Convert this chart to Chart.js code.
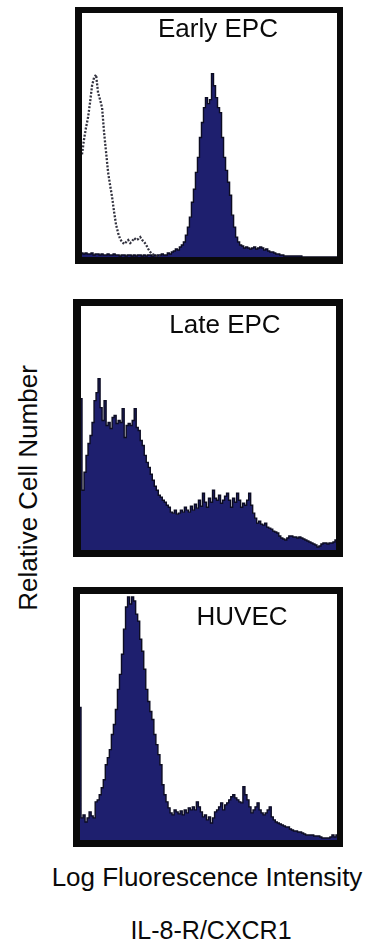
<!DOCTYPE html>
<html>
<head>
<meta charset="utf-8">
<script src="https://cdn.jsdelivr.net/npm/chart.js@4.4.1/dist/chart.umd.min.js"></script>
<style>
  html, body { margin: 0; padding: 0; background: #ffffff; }
  body { width: 368px; height: 952px; position: relative; overflow: hidden; font-family: "Liberation Sans", Arial, sans-serif; color: #0a0a0a; }
  .panel { position: absolute; }
  .txt { position: absolute; white-space: nowrap; text-align: center; line-height: 1; }
</style>
</head>
<body>

<div class="panel" style="left:75px;top:7px;width:268px;height:257px;"><canvas id="c1" width="268" height="257"></canvas></div>
<div class="panel" style="left:73px;top:299px;width:270px;height:258px;"><canvas id="c2" width="270" height="258"></canvas></div>
<div class="panel" style="left:73px;top:587px;width:270px;height:260px;"><canvas id="c3" width="270" height="260"></canvas></div>

<div class="txt" id="t1" style="left:118px;top:15px;width:200px;font-size:26px;"></div>
<div class="txt" id="t2" style="left:125px;top:311px;width:200px;font-size:26px;"></div>
<div class="txt" id="t3" style="left:142px;top:603px;width:200px;font-size:26px;"></div>
<div class="txt" id="xlab" style="left:7px;top:864px;width:400px;font-size:26px;"></div>
<div class="txt" id="mlab" style="left:61px;top:918px;width:300px;font-size:25px;"></div>
<div class="txt" id="ylab" style="left:-122px;top:475px;width:300px;height:26px;font-size:26px;transform:rotate(-90deg);"></div>

<script>
// ---------- labels ----------
const panelTitles = ["Early EPC", "Late EPC", "HUVEC"];
const xAxisTitle = "Log Fluorescence Intensity";
const markerTitle = "IL-8-R/CXCR1";
const yAxisTitle = "Relative Cell Number";

// ---------- categories: 128 log-fluorescence channels ----------
const channels = Array.from({ length: 128 }, (_, i) => i * 2);

// ---------- series values (relative cell counts per channel) ----------
const earlyIsotype = [
  103,118,130,140,155,172,180,183,165,158,150,125,105,85,72,60,
  45,32,24,18,15,13,15,17,14,16,19,17,18,20,17,15,
  12,8,5,3,2,1,1,1
];
const earlyEPC = [
  4,3,4,3,3,4,2,3,3,2,3,2,2,3,2,2,
  3,2,2,1,2,2,1,2,2,1,2,1,2,2,1,2,
  1,2,2,1,2,1,2,2,3,2,2,4,3,5,6,8,
  7,10,12,15,22,30,40,55,68,85,100,120,135,150,160,154,
  158,184,172,160,150,145,120,100,87,75,62,42,30,20,15,12,
  11,9,10,9,8,9,10,8,9,10,9,7,8,6,5,5,
  4,3,3,2,2,1,1,1,1,1,1,1,1,1,0,0,
  0,0,0,0,0,0,0,0,0,0,0,0,0,0,0,0
];
const lateEPC = [
  152,60,78,95,107,115,128,150,158,172,143,130,150,125,128,122,
  133,135,127,130,128,142,113,125,127,125,130,142,123,120,110,105,
  95,88,83,76,70,64,60,55,53,50,48,45,43,38,37,40,
  36,37,40,38,43,40,38,44,40,46,42,50,44,57,48,43,
  52,48,60,52,50,55,47,50,54,57,50,43,52,48,57,50,
  43,47,45,50,57,45,37,32,27,29,26,25,27,23,22,21,
  19,18,17,14,12,11,10,12,14,14,13,13,12,13,12,11,
  10,9,8,7,6,5,3,4,6,7,7,6,7,7,8,10
];
const huvec = [
  132,22,25,18,22,28,24,22,38,40,45,52,60,75,82,90,
  105,115,130,150,165,185,210,232,242,235,242,238,225,218,200,188,
  170,150,138,128,120,105,95,85,75,55,45,38,32,27,25,30,
  28,26,29,25,30,27,32,30,33,30,38,33,28,23,25,20,
  23,17,22,28,30,33,37,30,35,37,40,43,45,42,40,38,
  37,53,45,40,33,27,30,33,37,30,27,25,27,30,33,23,
  20,18,17,16,15,14,13,13,11,10,9,9,8,8,7,6,
  5,5,5,5,4,4,4,3,2,2,2,2,3,5,3,5
];
const yMax = 245;

// ---------- text ----------
document.getElementById('t1').textContent = panelTitles[0];
document.getElementById('t2').textContent = panelTitles[1];
document.getElementById('t3').textContent = panelTitles[2];
document.getElementById('xlab').textContent = xAxisTitle;
document.getElementById('mlab').textContent = markerTitle;
document.getElementById('ylab').textContent = yAxisTitle;

// ---------- styles ----------
const FILL = '#1e1f6e';
const EDGE = '#0c0c22';

const framePlugin = {
  id: 'frame',
  afterDraw(chart) {
    const ctx = chart.ctx, a = chart.chartArea, w = chart.width, h = chart.height;
    ctx.save();
    ctx.fillStyle = '#0a0a0a';
    ctx.fillRect(0, 0, w, a.top);
    ctx.fillRect(0, a.bottom, w, h - a.bottom);
    ctx.fillRect(0, 0, a.left, h);
    ctx.fillRect(a.right, 0, w - a.right, h);
    ctx.restore();
  }
};

function filledSet(data) {
  return {
    data: data,
    fill: 'origin',
    backgroundColor: FILL,
    borderColor: EDGE,
    borderWidth: 1.4,
    stepped: 'middle',
    pointRadius: 0,
    order: 2
  };
}

function makeChart(id, datasets, pad) {
  return new Chart(document.getElementById(id), {
    type: 'line',
    data: { labels: channels, datasets: datasets },
    options: {
      responsive: false,
      animation: false,
      devicePixelRatio: 1,
      layout: { padding: pad },
      plugins: { legend: { display: false }, tooltip: { enabled: false } },
      scales: {
        x: { type: 'category', display: false, offset: false },
        y: { display: false, min: 0, max: yMax }
      }
    },
    plugins: [framePlugin]
  });
}

makeChart('c1', [
  filledSet(earlyEPC),
  {
    data: earlyIsotype,
    fill: false,
    borderColor: '#33333f',
    borderWidth: 2.3,
    borderDash: [2, 1.6],
    pointRadius: 0,
    tension: 0,
    order: 1
  }
], { left: 7, top: 6, right: 6, bottom: 7 });

makeChart('c2', [filledSet(lateEPC)], { left: 8, top: 7, right: 7, bottom: 7 });
makeChart('c3', [filledSet(huvec)], { left: 7, top: 7, right: 6, bottom: 7 });
</script>
</body>
</html>
